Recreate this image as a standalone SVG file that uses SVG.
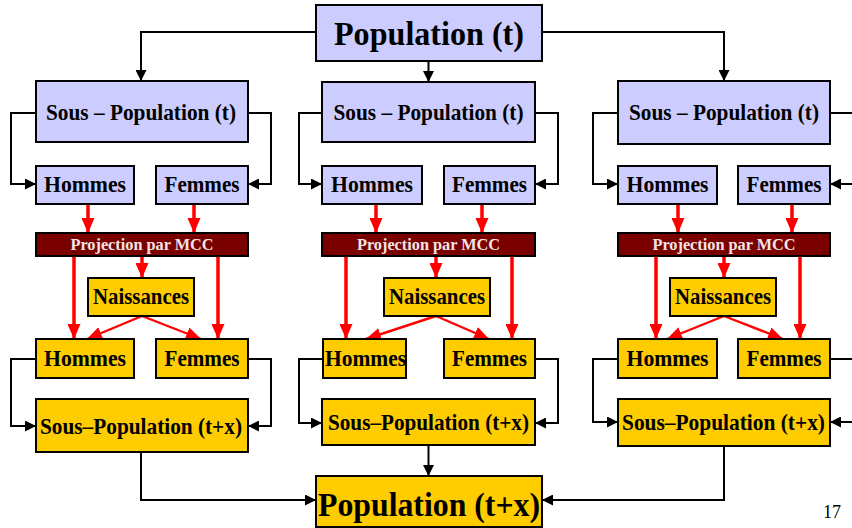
<svg xmlns="http://www.w3.org/2000/svg" width="852" height="528" viewBox="0 0 852 528">
<style>
.lav{fill:#CCCCFF;stroke:#000;stroke-width:2}
.gold{fill:#FFCC00;stroke:#000;stroke-width:2}
.proj{fill:#7A0000;stroke:#000;stroke-width:2}
.t{font-family:"Liberation Serif","Times New Roman",serif;font-weight:bold;fill:#000;text-anchor:middle}
.big{font-size:33px}
.mid{font-size:22.5px}
.pt{font-size:16px;fill:#F2E4E4}
.blk{fill:none;stroke:#000;stroke-width:2}
.red{fill:none;stroke:#FF0000;stroke-width:3.5}
.redt{fill:none;stroke:#FF0000;stroke-width:2.4}
</style>
<defs>
<marker id="ab" markerUnits="userSpaceOnUse" markerWidth="11" markerHeight="11" refX="11" refY="5.5" orient="auto"><path d="M0,0 L11,5.5 L0,11 z" fill="#000"/></marker>
<marker id="ar" markerUnits="userSpaceOnUse" markerWidth="15" markerHeight="13" refX="15" refY="6.5" orient="auto"><path d="M0,0 L15,6.5 L0,13 z" fill="#FF0000"/></marker>
</defs>
<rect width="852" height="528" fill="#fff"/>
<g id="connectors">
<path class="blk" d="M316,32 H141 V81" marker-end="url(#ab)"/>
<path class="blk" d="M542,32 H724 V81" marker-end="url(#ab)"/>
<path class="blk" d="M428.5,61 V82" marker-end="url(#ab)"/>
<path class="blk" d="M36,113 H11 V184 H36" marker-end="url(#ab)"/>
<path class="blk" d="M248,113 H271 V184 H248" marker-end="url(#ab)"/>
<path class="red" d="M88,204 V233" marker-end="url(#ar)"/>
<path class="red" d="M194,204 V233" marker-end="url(#ar)"/>
<path class="red" d="M142,256 V278" marker-end="url(#ar)"/>
<path class="red" d="M74,256 V339" marker-end="url(#ar)"/>
<path class="red" d="M218,256 V339" marker-end="url(#ar)"/>
<path class="redt" d="M142,316 L87,339" marker-end="url(#ar)"/>
<path class="redt" d="M142,316 L201,339" marker-end="url(#ar)"/>
<path class="blk" d="M36,359 H11 V426 H36" marker-end="url(#ab)"/>
<path class="blk" d="M248,359 H271 V426 H248" marker-end="url(#ab)"/>
<path class="blk" d="M141,452 V500 H316" marker-end="url(#ab)"/>
<path class="blk" d="M322,113 H299 V184 H322" marker-end="url(#ab)"/>
<path class="blk" d="M535,113 H558 V184 H535" marker-end="url(#ab)"/>
<path class="red" d="M376,204 V233" marker-end="url(#ar)"/>
<path class="red" d="M482,204 V233" marker-end="url(#ar)"/>
<path class="red" d="M436,256 V278" marker-end="url(#ar)"/>
<path class="red" d="M346,256 V339" marker-end="url(#ar)"/>
<path class="red" d="M512,256 V339" marker-end="url(#ar)"/>
<path class="redt" d="M436,316 L366,339" marker-end="url(#ar)"/>
<path class="redt" d="M436,316 L489,339" marker-end="url(#ar)"/>
<path class="blk" d="M323,359 H299 V423 H322" marker-end="url(#ab)"/>
<path class="blk" d="M535,359 H558 V423 H535" marker-end="url(#ab)"/>
<path class="blk" d="M428.5,445 V476" marker-end="url(#ab)"/>
<path class="blk" d="M618,113 H593 V184 H618" marker-end="url(#ab)"/>
<path class="blk" d="M830,113 H860"/>
<path class="blk" d="M860,184 H830" marker-end="url(#ab)"/>
<path class="red" d="M678,204 V233" marker-end="url(#ar)"/>
<path class="red" d="M792,204 V233" marker-end="url(#ar)"/>
<path class="red" d="M724,256 V278" marker-end="url(#ar)"/>
<path class="red" d="M656,256 V339" marker-end="url(#ar)"/>
<path class="red" d="M800,256 V339" marker-end="url(#ar)"/>
<path class="redt" d="M724,316 L667,339" marker-end="url(#ar)"/>
<path class="redt" d="M724,316 L783,339" marker-end="url(#ar)"/>
<path class="blk" d="M618,359 H593 V422 H618" marker-end="url(#ab)"/>
<path class="blk" d="M830,359 H860"/>
<path class="blk" d="M860,422 H830" marker-end="url(#ab)"/>
<path class="blk" d="M724,446 V500 H542" marker-end="url(#ab)"/>
</g>
<g id="pop-t"><rect class="lav" x="316" y="5" width="226" height="56"/><text class="t big" x="429" y="45" textLength="190" lengthAdjust="spacingAndGlyphs">Population (t)</text></g>

<g id="sp1-t"><rect class="lav" x="36" y="81" width="212" height="61"/><text class="t mid" x="141" y="120" textLength="190" lengthAdjust="spacingAndGlyphs">Sous – Population (t)</text></g>
<g id="h1-t"><rect class="lav" x="36" y="166" width="98" height="38"/><text class="t mid" x="85" y="192" textLength="82" lengthAdjust="spacingAndGlyphs">Hommes</text></g>
<g id="f1-t"><rect class="lav" x="156" y="166" width="92" height="38"/><text class="t mid" x="202" y="192" textLength="75" lengthAdjust="spacingAndGlyphs">Femmes</text></g>
<g id="proj1"><rect class="proj" x="36" y="233" width="212" height="23"/><text class="t pt" x="142" y="250" textLength="143" lengthAdjust="spacingAndGlyphs">Projection par MCC</text></g>
<g id="nais1"><rect class="gold" x="88" y="278" width="106" height="38"/><text class="t mid" x="141" y="304" textLength="96" lengthAdjust="spacingAndGlyphs">Naissances</text></g>
<g id="h1-tx"><rect class="gold" x="36" y="339" width="98" height="39"/><text class="t mid" x="85" y="366" textLength="82" lengthAdjust="spacingAndGlyphs">Hommes</text></g>
<g id="f1-tx"><rect class="gold" x="156" y="339" width="92" height="39"/><text class="t mid" x="202" y="366" textLength="75" lengthAdjust="spacingAndGlyphs">Femmes</text></g>
<g id="sp1-tx"><rect class="gold" x="36" y="399" width="212" height="53"/><text class="t mid" x="141" y="434" textLength="202" lengthAdjust="spacingAndGlyphs">Sous–Population (t+x)</text></g>

<g id="sp2-t"><rect class="lav" x="322" y="82" width="213" height="60"/><text class="t mid" x="428.5" y="120" textLength="190" lengthAdjust="spacingAndGlyphs">Sous – Population (t)</text></g>
<g id="h2-t"><rect class="lav" x="322" y="166" width="100" height="38"/><text class="t mid" x="372" y="192" textLength="82" lengthAdjust="spacingAndGlyphs">Hommes</text></g>
<g id="f2-t"><rect class="lav" x="444" y="166" width="91" height="38"/><text class="t mid" x="489.5" y="192" textLength="75" lengthAdjust="spacingAndGlyphs">Femmes</text></g>
<g id="proj2"><rect class="proj" x="322" y="233" width="213" height="23"/><text class="t pt" x="428.5" y="250" textLength="143" lengthAdjust="spacingAndGlyphs">Projection par MCC</text></g>
<g id="nais2"><rect class="gold" x="384" y="278" width="106" height="38"/><text class="t mid" x="437" y="304" textLength="96" lengthAdjust="spacingAndGlyphs">Naissances</text></g>
<g id="h2-tx"><rect class="gold" x="323" y="339" width="83" height="39"/><text class="t mid" x="365.5" y="366" textLength="81" lengthAdjust="spacingAndGlyphs">Hommes</text></g>
<g id="f2-tx"><rect class="gold" x="444" y="339" width="91" height="39"/><text class="t mid" x="489.5" y="366" textLength="75" lengthAdjust="spacingAndGlyphs">Femmes</text></g>
<g id="sp2-tx"><rect class="gold" x="322" y="399" width="213" height="46"/><text class="t mid" x="428.5" y="430" textLength="201" lengthAdjust="spacingAndGlyphs">Sous–Population (t+x)</text></g>

<g id="sp3-t"><rect class="lav" x="618" y="81" width="212" height="63"/><text class="t mid" x="724" y="120" textLength="190" lengthAdjust="spacingAndGlyphs">Sous – Population (t)</text></g>
<g id="h3-t"><rect class="lav" x="618" y="166" width="99" height="38"/><text class="t mid" x="667.5" y="192" textLength="82" lengthAdjust="spacingAndGlyphs">Hommes</text></g>
<g id="f3-t"><rect class="lav" x="738" y="166" width="92" height="38"/><text class="t mid" x="784" y="192" textLength="75" lengthAdjust="spacingAndGlyphs">Femmes</text></g>
<g id="proj3"><rect class="proj" x="618" y="233" width="212" height="23"/><text class="t pt" x="724" y="250" textLength="143" lengthAdjust="spacingAndGlyphs">Projection par MCC</text></g>
<g id="nais3"><rect class="gold" x="670" y="278" width="106" height="38"/><text class="t mid" x="723" y="304" textLength="96" lengthAdjust="spacingAndGlyphs">Naissances</text></g>
<g id="h3-tx"><rect class="gold" x="618" y="339" width="99" height="39"/><text class="t mid" x="667.5" y="366" textLength="82" lengthAdjust="spacingAndGlyphs">Hommes</text></g>
<g id="f3-tx"><rect class="gold" x="738" y="339" width="92" height="39"/><text class="t mid" x="784" y="366" textLength="75" lengthAdjust="spacingAndGlyphs">Femmes</text></g>
<g id="sp3-tx"><rect class="gold" x="618" y="399" width="212" height="47"/><text class="t mid" x="723.5" y="430" textLength="203" lengthAdjust="spacingAndGlyphs">Sous–Population (t+x)</text></g>

<g id="pop-tx"><rect class="gold" x="316" y="476" width="226" height="51"/><text class="t big" x="429" y="516" textLength="222" lengthAdjust="spacingAndGlyphs">Population (t+x)</text></g>
<text x="832" y="518" font-family="Liberation Serif, serif" font-size="18" text-anchor="middle" fill="#000">17</text>
</svg>
